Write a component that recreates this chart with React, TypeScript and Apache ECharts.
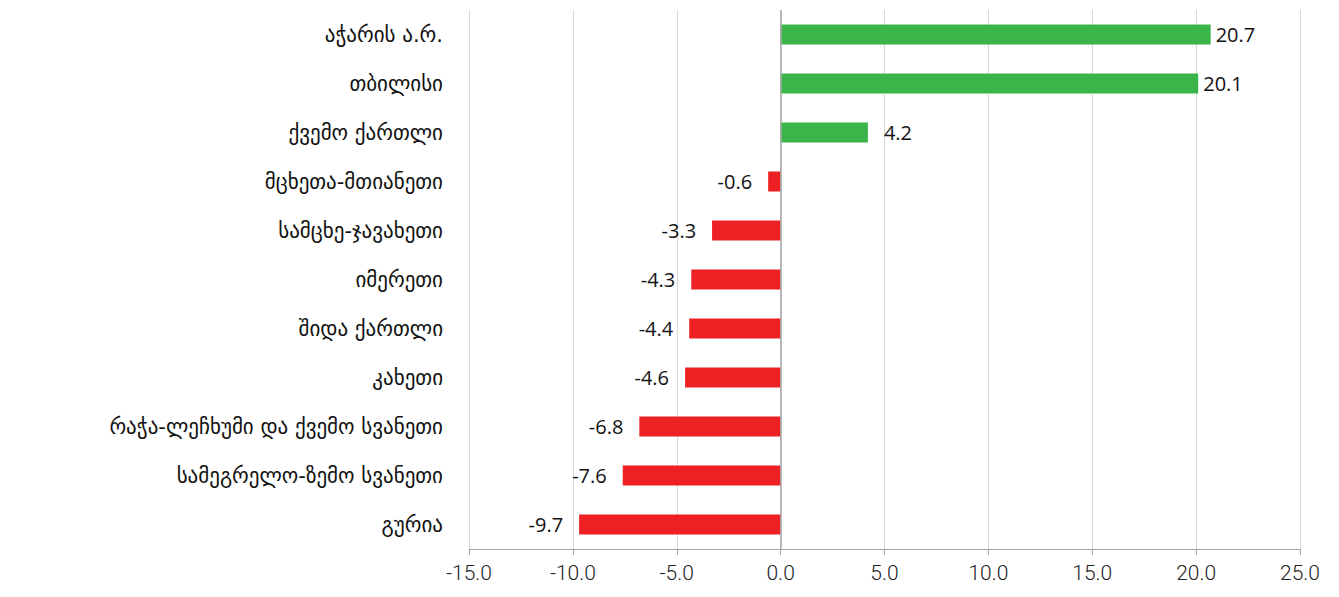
import React, { useEffect, useRef } from "react";
import * as echarts from "echarts";

const categories = [
  "აჭარის ა.რ.",
  "თბილისი",
  "ქვემო ქართლი",
  "მცხეთა-მთიანეთი",
  "სამცხე-ჯავახეთი",
  "იმერეთი",
  "შიდა ქართლი",
  "კახეთი",
  "რაჭა-ლეჩხუმი და ქვემო სვანეთი",
  "სამეგრელო-ზემო სვანეთი",
  "გურია",
];
const values = [20.7, 20.1, 4.2, -0.6, -3.3, -4.3, -4.4, -4.6, -6.8, -7.6, -9.7];
const xMin = -15;
const xMax = 25;
const xStep = 5;

const GREEN = "#3bb54a";
const RED = "#ed2024";

export default function App() {
  const ref = useRef<HTMLDivElement>(null);
  useEffect(() => {
    if (!ref.current) return;
    const chart = echarts.init(ref.current, null, { renderer: "svg" });
    chart.setOption({
      animation: false,
      grid: { left: 469, right: 39, top: 10, bottom: 48, containLabel: false },
      xAxis: {
        type: "value",
        min: xMin,
        max: xMax,
        interval: xStep,
        axisLine: { show: true, onZero: false, lineStyle: { color: "#a6a6a6", width: 1 } },
        axisTick: { show: true, length: 6, lineStyle: { color: "#a6a6a6" } },
        splitLine: { show: true, lineStyle: { color: "#d9d9d9", width: 1 } },
        axisLabel: {
          margin: 13,
          fontSize: 21,
          color: "#222",
          fontFamily: "Roboto, sans-serif",
          fontWeight: 300,
          formatter: (v: number) => v.toFixed(1),
        },
      },
      yAxis: {
        type: "category",
        data: categories,
        inverse: true,
        axisLine: { show: false, onZero: false },
        axisTick: { show: false },
        splitLine: { show: false },
        axisLabel: {
          margin: 26,
          fontSize: 21,
          color: "#111",
          fontFamily: "'DejaVu Sans', sans-serif",
        },
      },
      series: [
        {
          type: "bar",
          barWidth: 20,
          data: values.map((v) => ({
            value: v,
            itemStyle: { color: v >= 0 ? GREEN : RED },
            label: {
              show: true,
              position: v >= 0 ? "right" : "left",
              distance: v > 15 ? 5 : 16,
            },
          })),
          label: {
            show: true,
            fontSize: 20,
            color: "#111",
            fontFamily: "'Open Sans', 'Noto Sans', sans-serif",
            formatter: (p: any) => Number(p.value).toFixed(1),
          },
          markLine: {
            silent: true,
            symbol: ["none", "none"],
            label: { show: false },
            lineStyle: { color: "#a6a6a6", type: "solid", width: 1.5 },
            data: [{ xAxis: 0 }],
          },
        },
      ],
    });
    return () => chart.dispose();
  }, []);
  return (
    <div
      ref={ref}
      style={{ position: "fixed", left: 0, top: 0, width: 1339, height: 597, background: "#fff" }}
    />
  );
}
